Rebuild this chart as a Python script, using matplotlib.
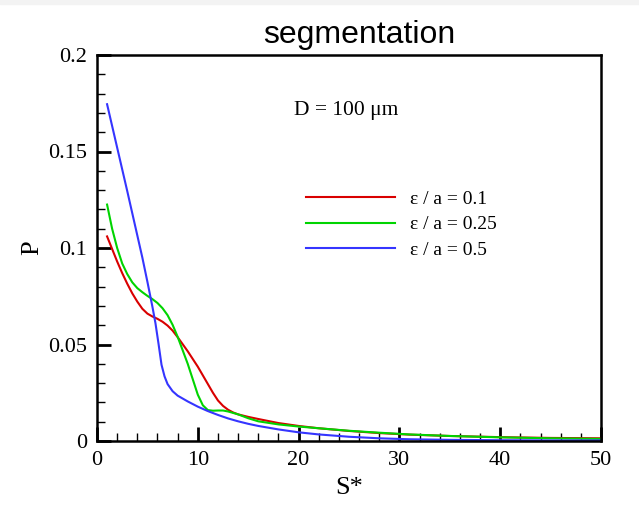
import numpy as np
import matplotlib as mpl
import matplotlib.pyplot as plt
from matplotlib.patches import Rectangle
from matplotlib.ticker import MultipleLocator

# values
s_red = [1, 1.5, 2, 2.5, 3, 3.5, 4, 4.5, 5, 5.5, 6, 6.5, 7, 7.5, 8, 9, 10, 10.5, 11,
         11.5, 12, 12.5, 13, 13.5, 14, 15, 16, 18, 20, 22, 25, 28, 31, 35, 40, 45, 50]
p_red = [0.106, 0.0995, 0.093, 0.087, 0.0815, 0.0765, 0.0722, 0.0685, 0.066, 0.0645,
         0.0633, 0.0618, 0.0598, 0.0572, 0.0538, 0.0465, 0.0385, 0.034, 0.0295, 0.025,
         0.021, 0.0182, 0.0162, 0.0148, 0.0138, 0.0125, 0.0114, 0.0093, 0.0078, 0.0066,
         0.0052, 0.0041, 0.0033, 0.0026, 0.002, 0.0016, 0.0014]

s_green = [1, 1.5, 2, 2.5, 3, 3.5, 4, 4.5, 5, 5.5, 6, 6.5, 7, 7.5, 8, 8.5, 9, 9.5, 10,
           10.5, 11, 11.5, 12, 12.5, 13, 14, 15, 16, 18, 20, 22, 25, 28, 31, 35, 40, 45, 50]
p_green = [0.1225, 0.11, 0.1, 0.092, 0.0865, 0.0822, 0.0792, 0.0771, 0.0752, 0.0735,
           0.0715, 0.0688, 0.0652, 0.0602, 0.054, 0.047, 0.04, 0.032, 0.024, 0.0185,
           0.016, 0.0157, 0.0158, 0.0158, 0.0153, 0.0138, 0.0118, 0.0102, 0.0086, 0.0075,
           0.0066, 0.0053, 0.0043, 0.0034, 0.0026, 0.0019, 0.0014, 0.0011]

s_blue = [1, 2, 3, 3.5, 4, 4.5, 5, 5.5, 5.8, 6.1, 6.4, 6.7, 7, 7.5, 8, 9, 10, 11, 12,
          13, 14, 15, 16, 18, 20, 22, 25, 28, 31, 35, 40, 45, 50]
p_blue = [0.1745, 0.152, 0.1295, 0.118, 0.1065, 0.095, 0.0825, 0.0695, 0.061, 0.0505,
          0.0395, 0.0335, 0.0295, 0.0258, 0.0235, 0.0205, 0.0178, 0.0155, 0.0135, 0.0117,
          0.0102, 0.0089, 0.0078, 0.006, 0.0045, 0.0034, 0.0022, 0.0014, 0.0009, 0.0006,
          0.0004, 0.0003, 0.0003]

labels = ['\u03b5 / a = 0.1', '\u03b5 / a = 0.25', '\u03b5 / a = 0.5']
colors = ['#d90000', '#00d400', '#3535ff']

serif = ['Liberation Serif', 'DejaVu Serif']
mpl.rcParams['font.family'] = serif

fig = plt.figure(figsize=(6.39, 5.05), dpi=100)
fig.patches.append(Rectangle((0, 1 - 4 / 505), 1, 4 / 505, color='#f3f3f3',
                             transform=fig.transFigure, zorder=0))
ax = fig.add_axes([97 / 639, 1 - 441 / 505, 504 / 639, 386 / 505])

for s, p, c, lab in zip([s_red, s_green, s_blue], [p_red, p_green, p_blue], colors, labels):
    ax.plot(s, p, color=c, lw=1.5, label=lab, solid_joinstyle='round')

ax.set_xlim(0, 50)
ax.set_ylim(0, 0.2)
ax.xaxis.set_major_locator(MultipleLocator(10))
ax.xaxis.set_minor_locator(MultipleLocator(2))
ax.yaxis.set_minor_locator(MultipleLocator(0.01))
ax.set_yticks([0, 0.05, 0.1, 0.15, 0.2])
ax.set_yticklabels(['0', '0.05', '0.1', '0.15', '0.2'])
ax.tick_params(which='major', direction='in', length=10, width=2, labelsize=16, pad=7)
ax.tick_params(which='minor', direction='in', length=6, width=1)
for sp in ax.spines.values():
    sp.set_linewidth(1.8)

ax.set_xlabel('S*', fontsize=19, labelpad=5)
ax.set_ylabel('P', fontsize=19, labelpad=4)

ax.text(0.495, 0.857, 'D = 100 \u03bcm', transform=ax.transAxes, ha='center', va='center',
        fontsize=15.5)

ax.legend(loc='center left', bbox_to_anchor=((306 - 97) / 504, (441 - 224.5) / 386),
          frameon=False, fontsize=14, handlelength=4.6, handletextpad=0.75,
          labelspacing=0.42, borderpad=0, borderaxespad=0)

fig.text(359 / 639, 1 - 35 / 505, 'segmentation', ha='center', va='center',
         fontsize=23, family=['Liberation Sans', 'DejaVu Sans'])

fig.savefig('out.png', dpi=100)
